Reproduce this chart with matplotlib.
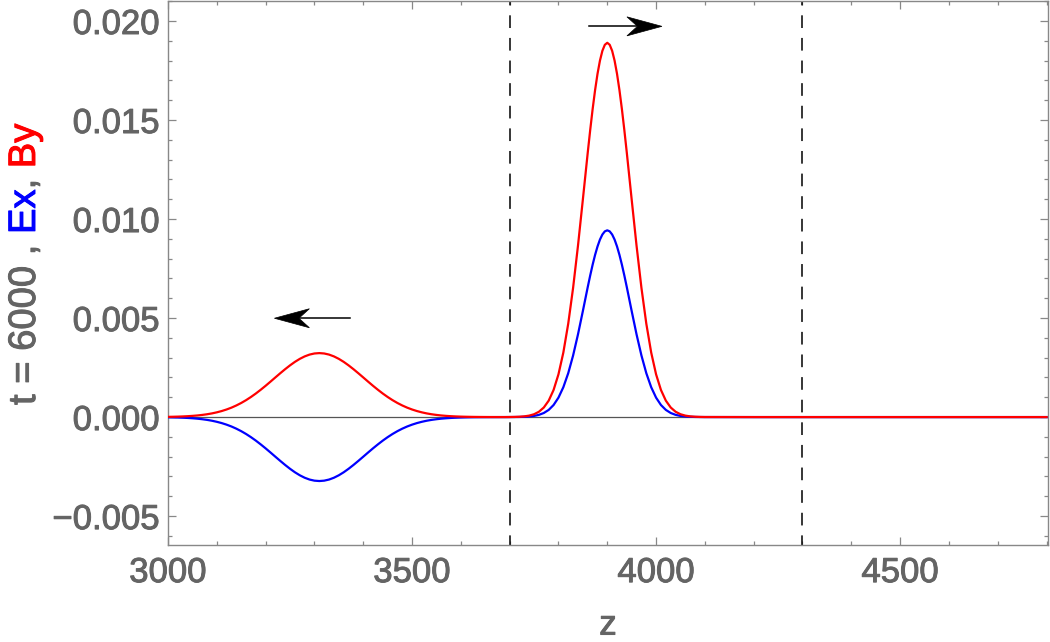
import matplotlib
matplotlib.use("Agg")
import numpy as np
import matplotlib.pyplot as plt
import matplotlib.patheffects as pe
from matplotlib.patches import Polygon
from matplotlib.ticker import MultipleLocator

plt.rcParams['font.family'] = ['Liberation Sans', 'DejaVu Sans']

# data (z, Ex, By at t = 6000)
z = [3000, 3010, 3020, 3030, 3040, 3050, 3060, 3070, 3080, 3090,
     3100, 3110, 3120, 3130, 3140, 3150, 3160, 3170, 3180, 3190,
     3200, 3210, 3220, 3230, 3240, 3250, 3260, 3270, 3280, 3290,
     3300, 3310, 3320, 3330, 3340, 3350, 3360, 3370, 3380, 3390,
     3400, 3410, 3420, 3430, 3440, 3450, 3460, 3470, 3480, 3490,
     3500, 3510, 3520, 3530, 3540, 3550, 3560, 3570, 3580, 3590,
     3600, 3610, 3620, 3630, 3640, 3650, 3660, 3670, 3680, 3690,
     3700, 3710, 3720, 3730, 3740, 3750, 3760, 3770, 3780, 3790,
     3800, 3810, 3820, 3830, 3840, 3850,
     3860, 3865, 3870, 3875, 3880, 3885, 3890, 3895, 3900, 3905, 3910, 3915, 3920, 3925, 3930, 3935, 3940,
     3950, 3960, 3970, 3980, 3990,
     4000, 4010, 4020, 4030, 4040, 4050, 4060, 4070, 4080, 4090,
     4100, 4200, 4400, 4600, 4800]

By = [0.0000111, 0.0000159, 0.0000225, 0.0000315, 0.0000435, 0.0000596, 0.0000805, 0.000108, 0.000142, 0.000185,
      0.000239, 0.000304, 0.000383, 0.000476, 0.000586, 0.000712, 0.000855, 0.001015, 0.001190, 0.001380,
      0.001580, 0.001789, 0.002002, 0.002213, 0.002418, 0.002611, 0.002787, 0.002939, 0.003063, 0.003155,
      0.003211, 0.003230, 0.003211, 0.003155, 0.003063, 0.002939, 0.002787, 0.002611, 0.002418, 0.002213,
      0.002002, 0.001789, 0.001580, 0.001380, 0.001190, 0.001015, 0.000855, 0.000712, 0.000586, 0.000476,
      0.000383, 0.000304, 0.000239, 0.000185, 0.000142, 0.000108, 0.0000805, 0.0000596, 0.0000435, 0.0000315,
      0.0000225, 0.0000159, 0.0000111, 0.0000076, 0.0000052, 0.0000035, 0.0000023, 0.0000015, 0.0000010, 0.0000006,
      0.0000036, 0.0000075, 0.0000167, 0.0000357, 0.0000730, 0.000143, 0.000269, 0.000483, 0.000830, 0.001368,
      0.002158, 0.003258, 0.004714, 0.006526, 0.008652, 0.010987,
      0.013355, 0.014488, 0.015547, 0.016503, 0.017330, 0.017999, 0.018494, 0.018798, 0.018900,
      0.018798, 0.018494, 0.017999, 0.017330, 0.016503, 0.015547, 0.014488, 0.013355,
      0.010987, 0.008652, 0.006526, 0.004714, 0.003258,
      0.002158, 0.001368, 0.000830, 0.000483, 0.000269, 0.000143, 0.0000730, 0.0000357, 0.0000167, 0.0000075,
      0.0000032, 0.0, 0.0, 0.0, 0.0]

Ex = [-0.0000111, -0.0000159, -0.0000225, -0.0000315, -0.0000435, -0.0000596, -0.0000805, -0.000108, -0.000142, -0.000185,
      -0.000239, -0.000304, -0.000383, -0.000476, -0.000586, -0.000712, -0.000855, -0.001015, -0.001190, -0.001380,
      -0.001580, -0.001789, -0.002002, -0.002213, -0.002418, -0.002611, -0.002787, -0.002939, -0.003063, -0.003155,
      -0.003211, -0.003230, -0.003211, -0.003155, -0.003063, -0.002939, -0.002787, -0.002611, -0.002418, -0.002213,
      -0.002002, -0.001789, -0.001580, -0.001380, -0.001190, -0.001015, -0.000855, -0.000712, -0.000586, -0.000476,
      -0.000383, -0.000304, -0.000239, -0.000185, -0.000142, -0.000108, -0.0000805, -0.0000596, -0.0000435, -0.0000315,
      -0.0000225, -0.0000159, -0.0000111, -0.0000076, -0.0000052, -0.0000035, -0.0000023, -0.0000015, -0.0000010, -0.0000006,
      0.0000007, 0.0000027, 0.0000061, 0.0000136, 0.0000287, 0.0000579, 0.000112, 0.000206, 0.000362, 0.000609,
      0.000981, 0.001508, 0.002215, 0.003111, 0.004175, 0.005355,
      0.006565, 0.007146, 0.007692, 0.008186, 0.008613, 0.008962, 0.009219, 0.009377, 0.009430,
      0.009377, 0.009219, 0.008962, 0.008613, 0.008186, 0.007692, 0.007146, 0.006565,
      0.005355, 0.004175, 0.003111, 0.002215, 0.001508,
      0.000981, 0.000609, 0.000362, 0.000206, 0.000112, 0.0000579, 0.0000287, 0.0000136, 0.0000061, 0.0000027,
      0.0000011, 0.0, 0.0, 0.0, 0.0]

boundaries = [3700, 4300]
arrow_left = ((3372, 0.00499), (3218, 0.00499))     # (tail, tip)
arrow_right = ((3862, 0.01973), (4012, 0.01973))

gray = '#646464'
fs = 25
thick = [pe.withStroke(linewidth=0.7, foreground=gray)]

fig = plt.figure(figsize=(10.5, 6.42), dpi=100)
ax = fig.add_axes([168 / 1050, 1 - 545 / 642, 880 / 1050, 544 / 642])

ax.axhline(0, color='#555555', lw=0.9, zorder=1)
ax.plot(z, Ex, color='blue', lw=1.6, zorder=3)
ax.plot(z, By, color='red', lw=1.6, zorder=4)
for b in boundaries:
    ax.axvline(b, color='black', lw=1.1, linestyle=(2, (8.3, 6.5)), zorder=2)

ax.set_xlim(3000, 4803)
ax.set_ylim(-0.00646, 0.02101)


def arrow(tail, tip, L=35, W=9.5, notch=0.3):
    # Mathematica-like arrowhead, sized in pixels
    p0 = ax.transData.transform(tail)
    p1 = ax.transData.transform(tip)
    u = (p1 - p0) / np.hypot(*(p1 - p0))
    n = np.array([-u[1], u[0]])
    back = p1 - u * L
    mid = p1 - u * L * (1 - notch)
    inv = ax.transData.inverted()
    head = inv.transform([p1, back + n * W, mid, back - n * W])
    shaft = inv.transform([p0, mid])
    ax.plot(shaft[:, 0], shaft[:, 1], color='black', lw=1.1, zorder=5)
    ax.add_patch(Polygon(head, closed=True, facecolor='black', edgecolor='black',
                         lw=0.5, zorder=6))


for tail, tip in (arrow_left, arrow_right):
    arrow(tail, tip)

ax.xaxis.set_major_locator(MultipleLocator(500))
ax.xaxis.set_minor_locator(MultipleLocator(100))
ax.yaxis.set_major_locator(MultipleLocator(0.005))
ax.yaxis.set_minor_locator(MultipleLocator(0.001))
ax.yaxis.set_major_formatter(lambda v, p: ('%.3f' % v).replace('-', '\u2212'))
ax.tick_params(which='both', direction='in', top=True, right=True, colors='#888888',
               labelcolor=gray, labelsize=fs, width=0.9)
ax.tick_params(which='major', length=6)
ax.tick_params(which='minor', length=3)
ax.tick_params(axis='y', which='major', pad=6)
ax.tick_params(axis='x', which='major', pad=8)
for lab in ax.get_xticklabels() + ax.get_yticklabels():
    lab.set_path_effects(thick)
for s in ax.spines.values():
    s.set_color('#888888')
    s.set_linewidth(1.0)

xl = ax.set_xlabel('z', fontsize=fs, color=gray, labelpad=14)
xl.set_path_effects(thick)

# multi-coloured y label, built piece by piece from the bottom up
fig.canvas.draw()
r = fig.canvas.get_renderer()
lfs = 27.5
parts = [('t = 6000 , ', gray), ('Ex', 'blue'), (', ', gray), ('By', 'red')]
base_x, base_y = 35, 642 - 405
ref = fig.text(0, 0, 'l', fontsize=lfs)
ref_w = ref.get_window_extent(r).width
ref.remove()
prefix = ''
for s, c in parts:
    m = fig.text(0, 0, prefix + 'l', fontsize=lfs)
    off = m.get_window_extent(r).width - ref_w if prefix else 0
    m.remove()
    t = fig.text(base_x / 1050, (base_y + off) / 642, s, color=c, fontsize=lfs, rotation=90,
                 rotation_mode='anchor', ha='left', va='baseline')
    t.set_path_effects([pe.withStroke(linewidth=0.7, foreground=c)])
    prefix += s

fig.savefig('out.png', dpi=100)
